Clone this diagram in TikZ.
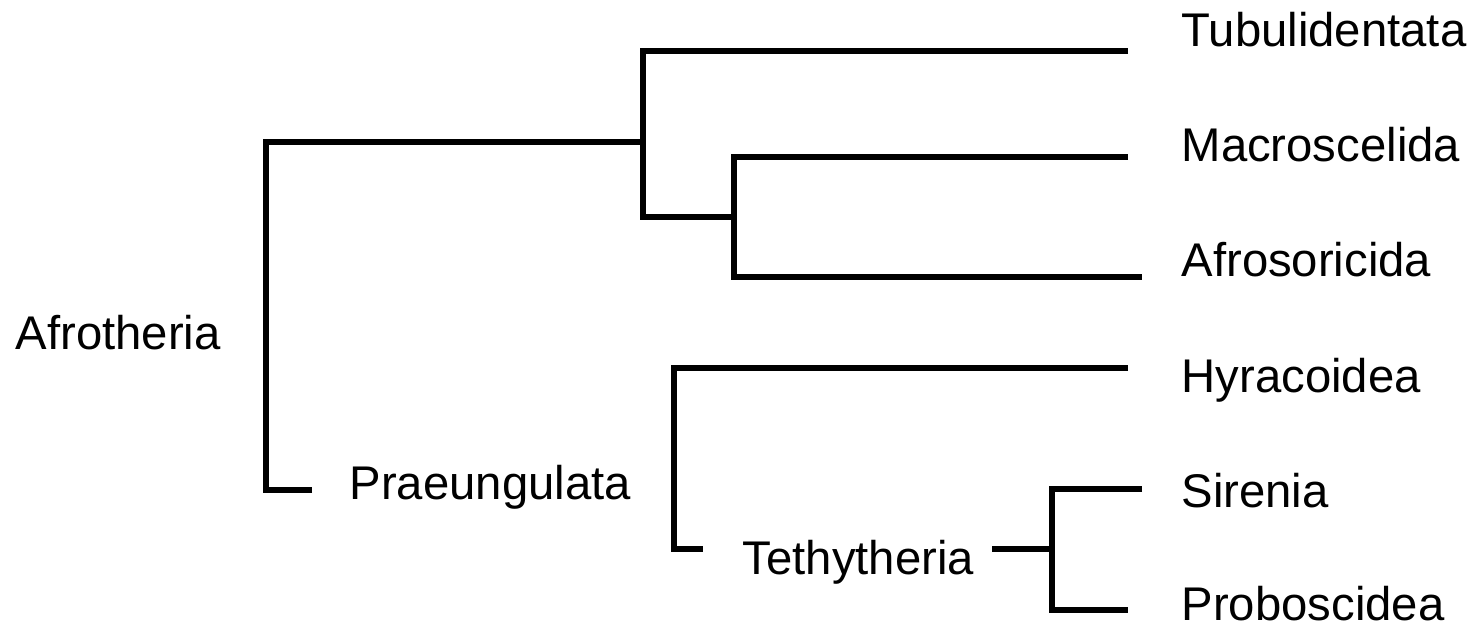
\documentclass[tikz,border=0pt]{standalone}
\usepackage{fontspec}
\setmainfont{Liberation Sans}
\usetikzlibrary{positioning}

\begin{document}
\begin{tikzpicture}[x=1cm,y=1cm,line width=3pt,line join=miter,every node/.style={font=\fontsize{26.9}{32}\selectfont,inner sep=0pt,anchor=base west},clade/.style={black},taxon/.style={anchor=base west}]
\path[use as bounding box] (0,0) rectangle (29.4,12.54);

% group names
\node (afrotheria) at (.26,5.54) {Afrotheria};
\node (praeungulata) at (6.94,2.54) {Praeungulata};
\node (tethytheria) at (14.8,1.04) {Tethytheria};

% leaf names
\node[taxon] (tubulidentata) at (23.58,11.6) {Tubulidentata};
\node[taxon] (macroscelida) at (23.58,9.3) {Macroscelida};
\node[taxon] (afrosoricida) at (23.58,7.0) {Afrosoricida};
\node[taxon] (hyracoidea) at (23.58,4.68) {Hyracoidea};
\node[taxon] (sirenia) at (23.58,2.38) {Sirenia};
\node[taxon] (proboscidea) at (23.58,.12) {Proboscidea};

% branch ends and forks
\coordinate (tub) at (22.56,11.52);
\coordinate (mac) at (22.56,9.4);
\coordinate (afr) at (22.84,7.0);
\coordinate (hyr) at (22.56,5.18);
\coordinate (sir) at (22.84,2.76);
\coordinate (pro) at (22.56,.34);
\coordinate (root) at (5.32,9.7);
\coordinate (pre) at (6.24,2.74);
\coordinate (top) at (12.86,9.7);
\coordinate (ins) at (14.68,8.2);
\coordinate (pen) at (13.48,1.56);
\coordinate (tl) at (14.06,1.56);
\coordinate (tr) at (19.84,1.56);
\coordinate (teth) at (21.04,1.56);

\draw[clade] (pre) -| (root) -- (top);
\draw[clade] (tub) -| (top) |- (ins);
\draw[clade] (mac) -| (ins) |- (afr);
\draw[clade] (hyr) -| (pen) -- (tl);
\draw[clade] (tr) -- (teth);
\draw[clade] (sir) -| (teth) |- (pro);

\end{tikzpicture}
\end{document}
